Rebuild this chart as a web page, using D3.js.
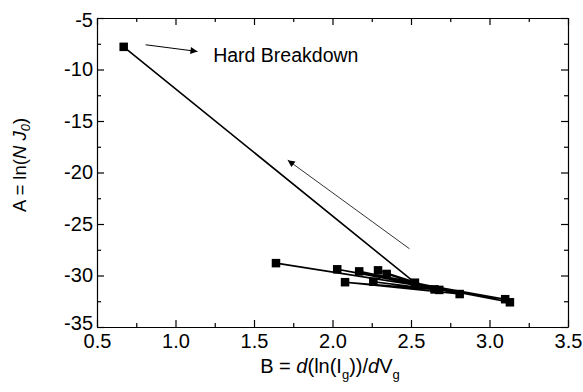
<!DOCTYPE html>
<html>
<head>
<meta charset="UTF-8">
<script src="https://d3js.org/d3.v7.min.js"></script>
<style>
  body { margin: 0; background: #fff; font-family: Arial, "Liberation Sans", sans-serif; }
</style>
</head>
<body>
<div id="chart"></div>
<script>
// measured points, in plotting order (ends at hard breakdown)
const seqB = [1.64, 3.10, 2.03, 3.13, 2.17, 2.81, 2.08, 2.68, 2.29, 2.65, 2.26, 2.345, 2.525, 0.67];
const seqA = [-28.8, -32.3, -29.4, -32.6, -29.6, -31.8, -30.65, -31.4, -29.5, -31.35, -30.6, -29.85, -30.7, -7.8];
const xTicks = [0.5, 1.0, 1.5, 2.0, 2.5, 3.0, 3.5];
const yTicks = [-5, -10, -15, -20, -25, -30, -35];

const W = 583, H = 392;
const m = {left: 97, top: 18, right: 15, bottom: 65};

const svg = d3.select("#chart").append("svg")
  .attr("width", W).attr("height", H);

const x = d3.scaleLinear().domain([0.5, 3.5]).range([m.left, W - m.right]);
const y = d3.scaleLinear().domain([-35, -5]).range([H - m.bottom, m.top]);

const data = seqB.map((b, i) => ({b: b, a: seqA[i]}));

svg.append("defs").append("marker")
  .attr("id", "ah").attr("viewBox", "0 0 10 10")
  .attr("refX", 10).attr("refY", 5)
  .attr("markerWidth", 10).attr("markerHeight", 7)
  .attr("markerUnits", "userSpaceOnUse")
  .attr("orient", "auto")
  .append("path").attr("d", "M0,0 L10,5 L0,10 Z").attr("fill", "#000");

// axes with inward ticks
const minorX = d3.range(0.75, 3.5, 0.5);
const minorY = d3.range(-32.5, -5, 5);
const ax = [
  {g: d3.axisBottom(x), t: `translate(0,${y(-35)})`},
  {g: d3.axisTop(x), t: `translate(0,${y(-5)})`},
  {g: d3.axisLeft(y), t: `translate(${x(0.5)},0)`},
  {g: d3.axisRight(y), t: `translate(${x(3.5)},0)`}
];
ax.forEach((a, i) => {
  const isX = i < 2;
  const g = svg.append("g").attr("transform", a.t)
    .call(a.g.tickValues(isX ? xTicks : yTicks).tickSize(-7).tickSizeOuter(0)
      .tickFormat(i === 0 ? (d => d.toFixed(1)) : (i === 2 ? (d => String(d)) : "")));
  g.select(".domain").attr("stroke", "#000").attr("stroke-width", 1.2);
  g.selectAll(".tick line").attr("stroke", "#000").attr("stroke-width", 1.2);
  g.selectAll("text").style("font-size", "20px").style("font-family", "Arial, 'Liberation Sans', sans-serif").attr("fill", "#000");
  if (i === 0) g.selectAll("text").attr("y", 7);
  if (i === 2) g.selectAll("text").attr("x", -4);
  const mg = svg.append("g").attr("transform", a.t)
    .call(a.g.tickValues(isX ? minorX : minorY).tickSize(-4).tickFormat(""));
  mg.select(".domain").remove();
  mg.selectAll(".tick line").attr("stroke", "#000").attr("stroke-width", 1.2);
});
svg.selectAll(".tick text").filter(function() { return this.textContent === "-35"; }).attr("dy", "0.1em");
svg.selectAll(".tick text").filter(function() { return this.textContent === "-5"; }).attr("dy", "0.42em");

// line + markers
svg.append("path").datum(data)
  .attr("fill", "none").attr("stroke", "#000").attr("stroke-width", 1.6)
  .attr("d", d3.line().x(d => x(d.b)).y(d => y(d.a)));

svg.selectAll(".pt").data(data).enter().append("rect")
  .attr("class", "pt")
  .attr("x", d => x(d.b) - 4.25).attr("y", d => y(d.a) - 4.25)
  .attr("width", 8.5).attr("height", 8.5).attr("fill", "#000");

// annotations
svg.append("line")
  .attr("x1", x(0.81)).attr("y1", y(-7.6))
  .attr("x2", x(1.14)).attr("y2", y(-8.25))
  .attr("stroke", "#000").attr("stroke-width", 1).attr("marker-end", "url(#ah)");
svg.append("text").attr("x", x(1.24)).attr("y", y(-9.3))
  .style("font-size", "19.5px").attr("fill", "#000").text("Hard Breakdown");

svg.append("line")
  .attr("x1", x(2.49)).attr("y1", y(-27.4))
  .attr("x2", x(1.715)).attr("y2", y(-18.8))
  .attr("stroke", "#333").attr("stroke-width", 1).attr("marker-end", "url(#ah)");

// axis titles
const yt = svg.append("text")
  .attr("transform", `translate(26,165) rotate(-90)`)
  .attr("text-anchor", "middle").style("font-size", "18.5px").attr("fill", "#000");
yt.append("tspan").text("A = ln(");
yt.append("tspan").style("font-style", "italic").text("N J");
yt.append("tspan").style("font-style", "italic").style("font-size", "13px").attr("dy", 4).text("0");
yt.append("tspan").attr("dy", -4).text(")");

const xt = svg.append("text")
  .attr("x", 330).attr("y", 373)
  .attr("text-anchor", "middle").style("font-size", "20px").attr("fill", "#000");
xt.append("tspan").text("B = ");
xt.append("tspan").style("font-style", "italic").text("d");
xt.append("tspan").text("(ln(I");
xt.append("tspan").style("font-size", "13px").attr("dy", 6).text("g");
xt.append("tspan").attr("dy", -6).text("))/");
xt.append("tspan").style("font-style", "italic").text("d");
xt.append("tspan").text("V");
xt.append("tspan").style("font-size", "13px").attr("dy", 6).text("g");
</script>
</body>
</html>
